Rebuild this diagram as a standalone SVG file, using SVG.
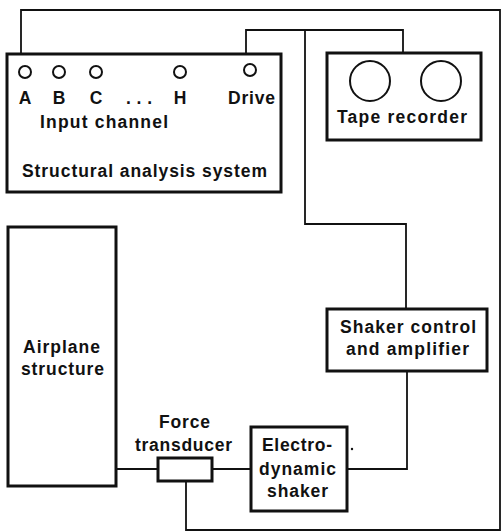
<svg xmlns="http://www.w3.org/2000/svg" width="503" height="532" viewBox="0 0 503 532">
<style>
.box{fill:none;stroke:#111;stroke-width:3}
.wire{fill:none;stroke:#111;stroke-width:1.8}
.port{fill:none;stroke:#111;stroke-width:2}
.reel{fill:none;stroke:#111;stroke-width:2}
text{font-family:"Liberation Sans",Arial,Helvetica,sans-serif;font-weight:bold;font-size:17.5px;fill:#111}
.c{text-anchor:middle}
</style>
<rect width="503" height="532" fill="#fff"/>
<g id="connectors">
<polyline class="wire" points="21,53 21,10 500,10 500,530 186,530 186,481"/>
<polyline class="wire" points="246,53 246,30 403,30 403,53"/>
<polyline class="wire" points="305,30 305,224 406,224 406,309"/>
<polyline class="wire" points="116,469 158,469"/>
<polyline class="wire" points="212,469 251,469"/>
<polyline class="wire" points="347,469 407,469 407,371"/>
</g>
<g id="structural-analysis-system">
<rect class="box" x="7" y="54" width="274" height="138"/>
<circle class="port" cx="25" cy="72" r="6"/>
<circle class="port" cx="59" cy="72" r="6"/>
<circle class="port" cx="96" cy="72" r="6"/>
<circle class="port" cx="180" cy="72" r="6"/>
<circle class="port" cx="250" cy="70" r="6"/>
<text class="c" x="25" y="104">A</text>
<text class="c" x="59" y="104">B</text>
<text class="c" x="96" y="104">C</text>
<text x="126" y="104" textLength="26" lengthAdjust="spacing">. . .</text>
<text class="c" x="180" y="104">H</text>
<text x="228" y="104" textLength="47" lengthAdjust="spacing">Drive</text>
<text x="40" y="128" textLength="128" lengthAdjust="spacing">Input channel</text>
<text x="22" y="177" textLength="245" lengthAdjust="spacing">Structural analysis system</text>
</g>
<g id="tape-recorder">
<rect class="box" x="327" y="53" width="154" height="87"/>
<circle class="reel" cx="370" cy="81" r="20"/>
<circle class="reel" cx="441" cy="81" r="20"/>
<text x="337" y="123" textLength="130" lengthAdjust="spacing">Tape recorder</text>
</g>
<g id="airplane-structure">
<rect class="box" x="8" y="227" width="108" height="259"/>
<text x="23" y="353" textLength="77" lengthAdjust="spacing">Airplane</text>
<text x="21" y="375" textLength="83" lengthAdjust="spacing">structure</text>
</g>
<g id="shaker-control">
<rect class="box" x="327" y="309" width="160" height="62"/>
<text x="340" y="333" textLength="136" lengthAdjust="spacing">Shaker control</text>
<text x="346" y="355" textLength="123" lengthAdjust="spacing">and amplifier</text>
</g>
<g id="force-transducer">
<rect class="box" x="158" y="458" width="54" height="23"/>
<text x="159" y="428" textLength="51" lengthAdjust="spacing">Force</text>
<text x="135" y="451" textLength="97" lengthAdjust="spacing">transducer</text>
</g>
<g id="electrodynamic-shaker">
<rect class="box" x="251" y="427" width="96" height="84"/>
<text x="262" y="451" textLength="70" lengthAdjust="spacing">Electro-</text>
<text x="259" y="475" textLength="77" lengthAdjust="spacing">dynamic</text>
<text x="267" y="497" textLength="61" lengthAdjust="spacing">shaker</text>
<circle cx="352" cy="449" r="1.2" fill="#111"/>
</g>
</svg>
